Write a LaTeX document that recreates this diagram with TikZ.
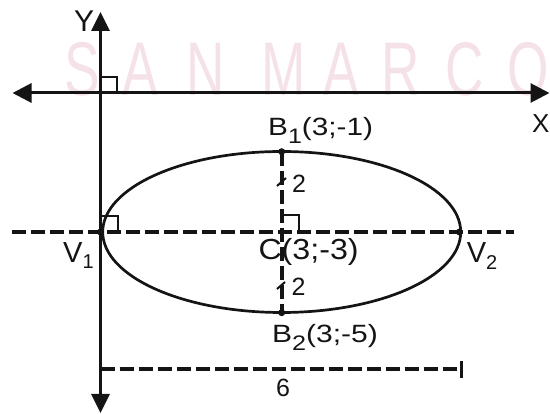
\documentclass[tikz,border=0pt]{standalone}
\usepackage{fontspec}
\setmainfont{Liberation Sans}
\usetikzlibrary{arrows.meta}
\definecolor{wm}{RGB}{244,226,232}
\definecolor{ink}{RGB}{20,20,20}
\newcommand{\fs}[1]{\fontsize{#1}{#1}\selectfont}
\newcommand{\subl}[3]{\raisebox{-#2pt}{\fs{#1}#3}}
\begin{document}
\begin{tikzpicture}[x=1pt,y=-1pt,
  axis/.style={line width=3pt, draw=ink},
  dsh/.style={line width=4pt, draw=ink, dash pattern=on 14pt off 5pt},
  ra/.style={line width=2pt, draw=ink},
  dot/.style={circle, fill=ink, inner sep=0pt, minimum size=7pt},
  lab/.style={inner sep=0pt, text=ink, anchor=base west},
  wmk/.style={inner sep=0pt, text=wm, anchor=base, font=\fs{76}}
]
\useasboundingbox (0,0) rectangle (550,414);
% watermark
\foreach \l/\x [count=\i] in {S/82,A/140,N/206,M/284,A/341,R/401,C/465,O/528}
  \node[wmk] (w\i) at (\x,96) {\scalebox{0.7}[1]{\l}};
% named points
\coordinate (O) at (100.5,93);
\coordinate (YT) at (100.5,12);
\coordinate (YB) at (100.5,413);
\coordinate (XL) at (12.5,93);
\coordinate (XR) at (549.5,93);
\coordinate (C) at (281.7,232);
\coordinate (DL) at (12,232);
\coordinate (DR) at (514,232);
\coordinate (D1) at (100.5,369.5);
\coordinate (D2) at (461,369.5);
\coordinate (T1) at (461,361);
\coordinate (T2) at (461,378);
\node[dot] (V1) at (100.5,232) {};
\node[dot] (V2) at (459.5,232) {};
\node[dot] (B1) at (281.7,151.7) {};
\node[dot] (B2) at (281.7,312.7) {};
% axes
\draw[axis, {Triangle[length=19pt,width=18pt]}-{Triangle[length=19pt,width=18pt]}] (YB) -- (YT);
\draw[axis, {Triangle[length=19pt,width=19pt]}-{Triangle[length=19pt,width=19pt]}] (XL) -- (XR);
\draw[ra] (O) ++(0,-16) -- ++(16,0) -- ++(0,16);
% ellipse
\draw[line width=2.7pt, draw=ink] (C) ellipse [x radius=179pt, y radius=80.5pt];
% axes of ellipse
\draw[dsh] (DL) -- (DR);
\draw[dsh] (B1.center) -- (B2.center);
\draw[ra] (V1.center) ++(0,-16) -- ++(17,0) -- ++(0,16);
\draw[ra] (C) ++(0,-16.5) -- ++(17,0) -- ++(0,16.5);
\coordinate (k1a) at (277,186); \coordinate (k1b) at (286,178);
\coordinate (k2a) at (277,289); \coordinate (k2b) at (285,282);
\draw[ra] (k1a) -- (k1b);
\draw[ra] (k2a) -- (k2b);
% dimension line
\draw[dsh] (D1) -- (D2);
\draw[axis] (T1) -- (T2);
% labels
\node[lab, font=\fs{30}] (ylab) at (74,31.7) {Y};
\node[lab, font=\fs{26}] (xlab) at (532,133) {X};
\node[lab, font=\fs{25}] (b1lab) at (268,135.7) {\scalebox{1.19}[1]{B\subl{21}{8}{1}(3;-1)}};
\node[lab, font=\fs{29}] (clab) at (258.3,260) {\scalebox{1.11}[1]{C(3;-3)}};
\node[lab, font=\fs{29}] (v1lab) at (63,263) {V\subl{20}{6}{1}};
\node[lab, font=\fs{29}] (v2lab) at (466.7,263) {V\subl{20}{7}{2}};
\node[lab, font=\fs{25}] (b2lab) at (272,343) {\scalebox{1.2}[1]{B\subl{21}{8}{2}(3;-5)}};
\node[inner sep=0pt, text=ink, font=\fs{25}] (six) at (283,388) {6};
\node[inner sep=0pt, text=ink, font=\fs{25}] (two1) at (299,184) {2};
\node[inner sep=0pt, text=ink, font=\fs{25}] (two2) at (298.5,287) {2};
\end{tikzpicture}
\end{document}
